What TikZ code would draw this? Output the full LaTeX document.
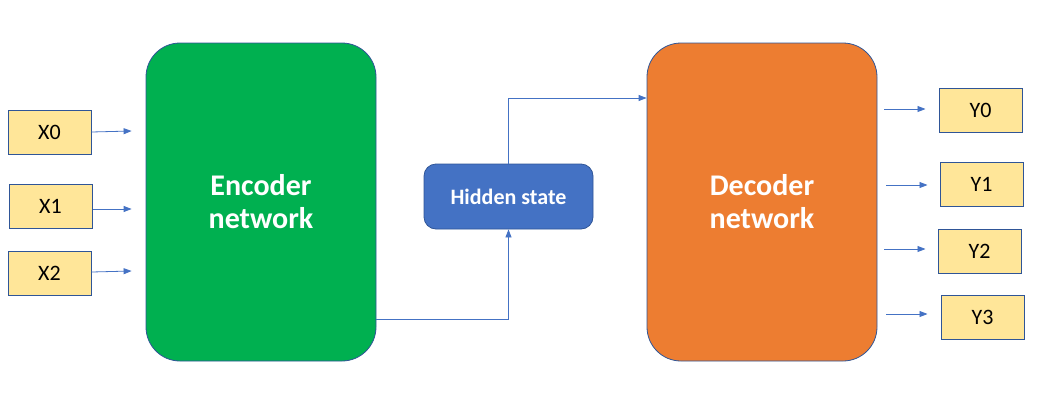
\documentclass[tikz,border=0pt]{standalone}
\usepackage{fontspec}
\setmainfont{Carlito}
\usetikzlibrary{arrows.meta}
\definecolor{encgreen}{HTML}{00B050}
\definecolor{decorange}{HTML}{ED7D31}
\definecolor{hidblue}{HTML}{4472C4}
\definecolor{boxyellow}{HTML}{FFE699}
\definecolor{edgeblue}{HTML}{2F5597}
\definecolor{arrowblue}{HTML}{4472C4}
\tikzset{
  iobox/.style={draw=edgeblue, line width=1pt, fill=boxyellow, minimum width=83pt, minimum height=44pt, inner sep=0pt, font=\fontsize{22pt}{26pt}\selectfont},
  netbox/.style={draw=edgeblue, line width=0.8pt, rounded corners=34pt, minimum width=230pt, minimum height=318pt, inner sep=0pt, text=white, align=center, font=\bfseries\fontsize{30pt}{33pt}\selectfont},
  hidbox/.style={draw=edgeblue, line width=0.8pt, fill=hidblue, rounded corners=12pt, minimum width=169pt, minimum height=65pt, inner sep=0pt, text=white, font=\bfseries\fontsize{22pt}{26pt}\selectfont},
  conn/.style={draw=arrowblue, line width=0.8pt, -{Triangle[length=8pt,width=6pt]}}
}
\begin{document}
\begin{tikzpicture}[x=1pt,y=-1pt]
\useasboundingbox (0,0) rectangle (1041,413);
% networks
\node[netbox, fill=encgreen] (enc) at (261,202) {Encoder\\network};
\node[netbox, fill=decorange] (dec) at (762,202) {Decoder\\network};
\node[hidbox] (hid) at (508.5,196.5) {Hidden state};
% inputs
\node[iobox] (x0) at (49.5,132) {X0};
\node[iobox] (x1) at (50.5,206) {X1};
\node[iobox] (x2) at (49.5,273.5) {X2};
% outputs
\node[iobox] (y0) at (980.5,110) {Y0};
\node[iobox] (y1) at (981.5,184) {Y1};
\node[iobox] (y2) at (979.5,251.5) {Y2};
\node[iobox] (y3) at (982.5,317) {Y3};
% input arrows
\coordinate (e0) at (enc.west |- 0,131);
\coordinate (e1) at (enc.west |- 0,209);
\coordinate (e2) at (enc.west |- 0,271);
\draw[conn] (x0.east) -- ([xshift=-14pt]e0);
\draw[conn] (x1.east |- e1) -- ([xshift=-14pt]e1);
\draw[conn] (x2.east |- 0,272) -- ([xshift=-14pt]e2);
% output arrows
\coordinate (d0) at (dec.east |- 0,109);
\coordinate (d1) at (dec.east |- 0,185);
\coordinate (d2) at (dec.east |- 0,249);
\coordinate (d3) at (dec.east |- 0,314);
\draw[conn] ([xshift=7pt]d0) -- ([xshift=-13pt]y0.west |- d0);
\draw[conn] ([xshift=9pt]d1) -- ([xshift=-12pt]y1.west |- d1);
\draw[conn] ([xshift=7pt]d2) -- ([xshift=-12pt]y2.west |- d2);
\draw[conn] ([xshift=9pt]d3) -- ([xshift=-13pt]y3.west |- d3);
% hidden state path
\coordinate (ea) at (enc.east |- 0,319);
\coordinate (da) at (dec.west |- 0,98);
\draw[conn] (ea) -| (hid.south);
\draw[conn] (hid.north) |- (da);
\end{tikzpicture}
\end{document}
